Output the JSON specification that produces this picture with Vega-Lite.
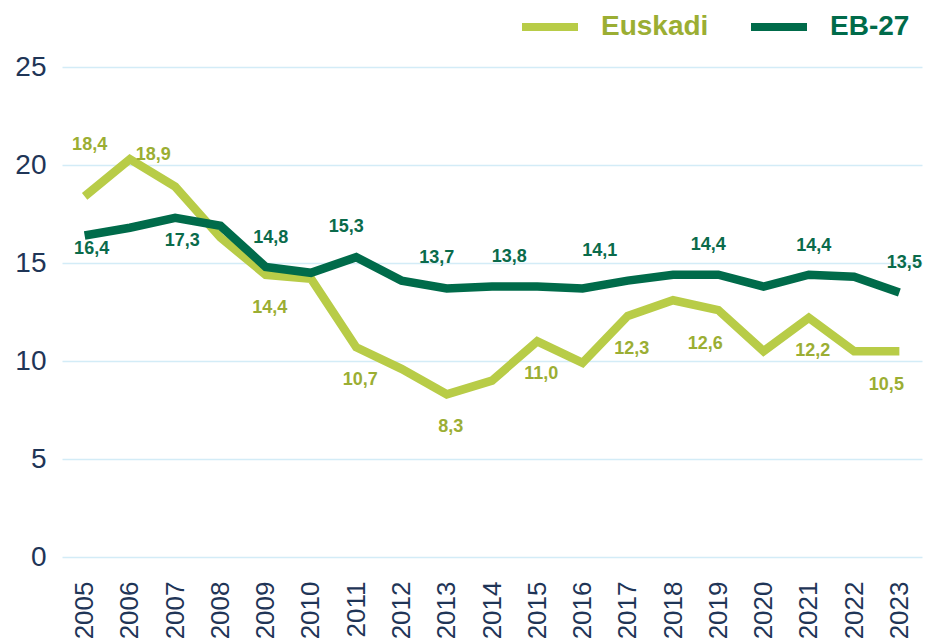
{
  "$schema": "https://vega.github.io/schema/vega-lite/v6.json",
  "width": 860,
  "height": 490,
  "autosize": "none",
  "padding": {"left": 62, "top": 67, "right": 3, "bottom": 86},
  "background": "white",
  "config": {
    "view": {"stroke": null},
    "font": "Liberation Sans"
  },
  "data": {
    "values": [
      {"series": "Euskadi", "year": "2005", "value": 18.4, "label": "18,4"},
      {"series": "Euskadi", "year": "2006", "value": 20.3, "label": ""},
      {"series": "Euskadi", "year": "2007", "value": 18.9, "label": "18,9"},
      {"series": "Euskadi", "year": "2008", "value": 16.3, "label": ""},
      {"series": "Euskadi", "year": "2009", "value": 14.4, "label": "14,4"},
      {"series": "Euskadi", "year": "2010", "value": 14.2, "label": ""},
      {"series": "Euskadi", "year": "2011", "value": 10.7, "label": "10,7"},
      {"series": "Euskadi", "year": "2012", "value": 9.6, "label": ""},
      {"series": "Euskadi", "year": "2013", "value": 8.3, "label": "8,3"},
      {"series": "Euskadi", "year": "2014", "value": 9.0, "label": ""},
      {"series": "Euskadi", "year": "2015", "value": 11.0, "label": "11,0"},
      {"series": "Euskadi", "year": "2016", "value": 9.9, "label": ""},
      {"series": "Euskadi", "year": "2017", "value": 12.3, "label": "12,3"},
      {"series": "Euskadi", "year": "2018", "value": 13.1, "label": ""},
      {"series": "Euskadi", "year": "2019", "value": 12.6, "label": "12,6"},
      {"series": "Euskadi", "year": "2020", "value": 10.5, "label": ""},
      {"series": "Euskadi", "year": "2021", "value": 12.2, "label": "12,2"},
      {"series": "Euskadi", "year": "2022", "value": 10.5, "label": ""},
      {"series": "Euskadi", "year": "2023", "value": 10.5, "label": "10,5"},
      {"series": "EB-27", "year": "2005", "value": 16.4, "label": "16,4"},
      {"series": "EB-27", "year": "2006", "value": 16.8, "label": ""},
      {"series": "EB-27", "year": "2007", "value": 17.3, "label": "17,3"},
      {"series": "EB-27", "year": "2008", "value": 16.9, "label": ""},
      {"series": "EB-27", "year": "2009", "value": 14.8, "label": "14,8"},
      {"series": "EB-27", "year": "2010", "value": 14.5, "label": ""},
      {"series": "EB-27", "year": "2011", "value": 15.3, "label": "15,3"},
      {"series": "EB-27", "year": "2012", "value": 14.1, "label": ""},
      {"series": "EB-27", "year": "2013", "value": 13.7, "label": "13,7"},
      {"series": "EB-27", "year": "2014", "value": 13.8, "label": ""},
      {"series": "EB-27", "year": "2015", "value": 13.8, "label": "13,8"},
      {"series": "EB-27", "year": "2016", "value": 13.7, "label": ""},
      {"series": "EB-27", "year": "2017", "value": 14.1, "label": "14,1"},
      {"series": "EB-27", "year": "2018", "value": 14.4, "label": ""},
      {"series": "EB-27", "year": "2019", "value": 14.4, "label": "14,4"},
      {"series": "EB-27", "year": "2020", "value": 13.8, "label": ""},
      {"series": "EB-27", "year": "2021", "value": 14.4, "label": "14,4"},
      {"series": "EB-27", "year": "2022", "value": 14.3, "label": ""},
      {"series": "EB-27", "year": "2023", "value": 13.5, "label": "13,5"}
    ]
  },
  "encoding": {
    "x": {
      "field": "year",
      "type": "ordinal",
      "scale": {"type": "point", "padding": 0.5},
      "axis": {
        "title": null,
        "domain": false,
        "ticks": false,
        "labelAngle": -90,
        "labelFontSize": 26,
        "labelColor": "#1f3557",
        "labelPadding": 24,
        "grid": false
      }
    },
    "y": {
      "field": "value",
      "type": "quantitative",
      "scale": {"domain": [0, 25], "nice": false},
      "axis": {
        "title": null,
        "values": [0, 5, 10, 15, 20, 25],
        "domain": false,
        "ticks": false,
        "grid": true,
        "gridColor": "#d3ecf7",
        "gridWidth": 1.5,
        "labelFontSize": 28,
        "labelColor": "#1f3557",
        "labelPadding": 16
      }
    }
  },
  "layer": [
    {
      "mark": {"type": "line", "strokeWidth": 8.5, "strokeJoin": "miter", "strokeCap": "butt"},
      "encoding": {
        "color": {
          "field": "series",
          "type": "nominal",
          "sort": ["Euskadi", "EB-27"],
          "scale": {"domain": ["Euskadi", "EB-27"], "range": ["#b8cc47", "#006b4a"]},
          "legend": {
            "title": null,
            "orient": "none",
            "legendX": 456,
            "legendY": -72,
            "direction": "horizontal",
            "padding": 0,
            "symbolType": "stroke",
            "symbolSize": 3136,
            "symbolStrokeWidth": 8,
            "labelOffset": 19,
            "columnPadding": 26,
            "labelFontSize": 28,
            "labelFontWeight": "bold",
            "labelColor": {"expr": "datum.label === 'Euskadi' ? '#9bae33' : '#006b4a'"}
          }
        }
      }
    },
    {
      "transform": [
        {"filter": {"field": "series", "equal": "Euskadi"}},
        {"filter": {"field": "year", "oneOf": ["2009", "2011", "2013", "2015", "2017", "2021"]}}
      ],
      "mark": {"type": "text", "dx": 4, "dy": 33, "fontSize": 18, "fontWeight": "bold", "color": "#9bae33"},
      "encoding": {"text": {"field": "label"}}
    },
    {
      "transform": [
        {"filter": {"field": "series", "equal": "Euskadi"}},
        {"filter": {"field": "year", "oneOf": ["2019", "2023"]}}
      ],
      "mark": {"type": "text", "dx": -13, "dy": 34, "fontSize": 18, "fontWeight": "bold", "color": "#9bae33"},
      "encoding": {"text": {"field": "label"}}
    },
    {
      "transform": [
        {"filter": {"field": "series", "equal": "Euskadi"}},
        {"filter": {"field": "year", "equal": "2005"}}
      ],
      "mark": {"type": "text", "dx": 5, "dy": -51, "fontSize": 18, "fontWeight": "bold", "color": "#9bae33"},
      "encoding": {"text": {"field": "label"}}
    },
    {
      "transform": [
        {"filter": {"field": "series", "equal": "Euskadi"}},
        {"filter": {"field": "year", "equal": "2007"}}
      ],
      "mark": {"type": "text", "dx": -22, "dy": -32, "fontSize": 18, "fontWeight": "bold", "color": "#9bae33"},
      "encoding": {"text": {"field": "label"}}
    },
    {
      "transform": [
        {"filter": {"field": "series", "equal": "EB-27"}},
        {"filter": {"field": "year", "oneOf": ["2009", "2021", "2023"]}}
      ],
      "mark": {"type": "text", "dx": 5, "dy": -29, "fontSize": 18, "fontWeight": "bold", "color": "#0a6b4b"},
      "encoding": {"text": {"field": "label"}}
    },
    {
      "transform": [
        {"filter": {"field": "series", "equal": "EB-27"}},
        {"filter": {"field": "year", "oneOf": ["2011", "2013", "2019"]}}
      ],
      "mark": {"type": "text", "dx": -10, "dy": -30, "fontSize": 18, "fontWeight": "bold", "color": "#0a6b4b"},
      "encoding": {"text": {"field": "label"}}
    },
    {
      "transform": [
        {"filter": {"field": "series", "equal": "EB-27"}},
        {"filter": {"field": "year", "oneOf": ["2015", "2017"]}}
      ],
      "mark": {"type": "text", "dx": -28, "dy": -30, "fontSize": 18, "fontWeight": "bold", "color": "#0a6b4b"},
      "encoding": {"text": {"field": "label"}}
    },
    {
      "transform": [
        {"filter": {"field": "series", "equal": "EB-27"}},
        {"filter": {"field": "year", "equal": "2005"}}
      ],
      "mark": {"type": "text", "dx": 7, "dy": 13, "fontSize": 18, "fontWeight": "bold", "color": "#0a6b4b"},
      "encoding": {"text": {"field": "label"}}
    },
    {
      "transform": [
        {"filter": {"field": "series", "equal": "EB-27"}},
        {"filter": {"field": "year", "equal": "2007"}}
      ],
      "mark": {"type": "text", "dx": 7, "dy": 23, "fontSize": 18, "fontWeight": "bold", "color": "#0a6b4b"},
      "encoding": {"text": {"field": "label"}}
    }
  ]
}
